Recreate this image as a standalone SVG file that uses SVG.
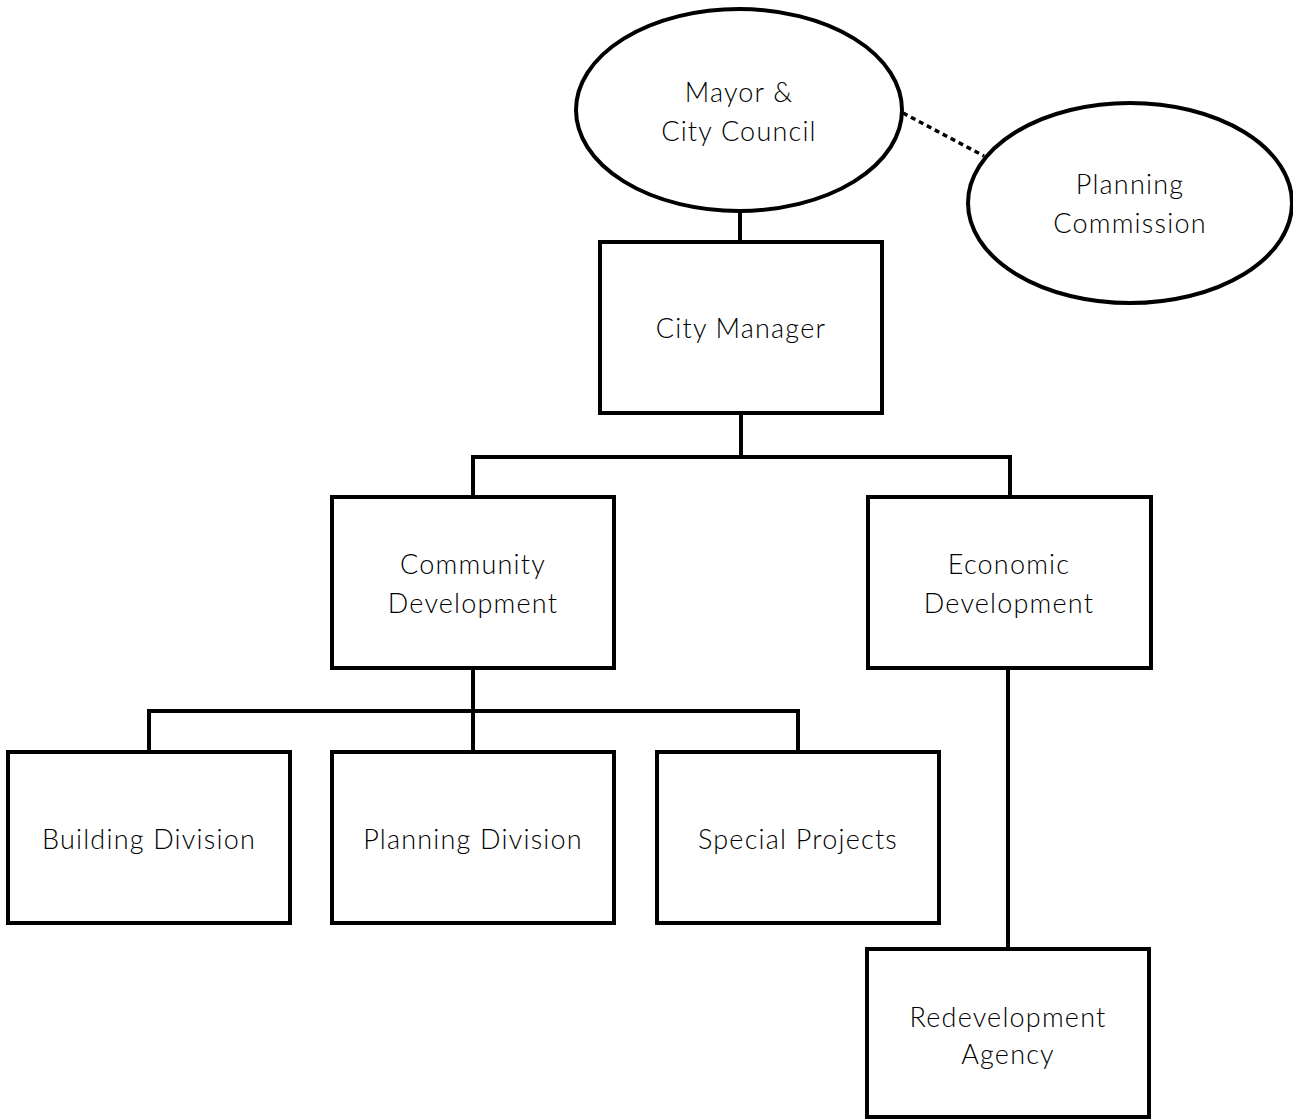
<svg xmlns="http://www.w3.org/2000/svg" width="1293" height="1119" viewBox="0 0 1293 1119">
<style>
.n{fill:#fff;stroke:#000;stroke-width:4}
.c{fill:none;stroke:#000;stroke-width:4}
.d{fill:none;stroke:#000;stroke-width:3.5;stroke-dasharray:5 4}
text{font-family:"Lato","Liberation Sans",sans-serif;font-weight:300;font-size:27px;fill:#000;text-anchor:middle;letter-spacing:1.2px}
</style>
<rect width="1293" height="1119" fill="#fff"/>
<g id="connectors">
<line class="c" x1="740" y1="211" x2="740" y2="242"/>
<line class="d" x1="903" y1="113" x2="984" y2="156"/>
<polyline class="c" points="741,413 741,457"/>
<polyline class="c" points="473,497 473,457 1010,457 1010,497"/>
<line class="c" x1="473" y1="668" x2="473" y2="752"/>
<polyline class="c" points="149,752 149,711 798,711 798,752"/>
<line class="c" x1="1008" y1="668" x2="1008" y2="949"/>
</g>
<g id="mayor"><ellipse class="n" cx="739" cy="110" rx="163" ry="101"/><text x="739" y="102">Mayor &amp;</text><text x="739" y="141">City Council</text></g>
<g id="planning-commission"><ellipse class="n" cx="1130" cy="203" rx="162" ry="100"/><text x="1130" y="194">Planning</text><text x="1130" y="233">Commission</text></g>
<g id="city-manager"><rect class="n" x="600" y="242" width="282" height="171"/><text x="741" y="338">City Manager</text></g>
<g id="community-development"><rect class="n" x="332" y="497" width="282" height="171"/><text x="473" y="574">Community</text><text x="473" y="613">Development</text></g>
<g id="economic-development"><rect class="n" x="868" y="497" width="283" height="171"/><text x="1009" y="574">Economic</text><text x="1009" y="613">Development</text></g>
<g id="building-division"><rect class="n" x="8" y="752" width="282" height="171"/><text x="149" y="849">Building Division</text></g>
<g id="planning-division"><rect class="n" x="332" y="752" width="282" height="171"/><text x="473" y="849">Planning Division</text></g>
<g id="special-projects"><rect class="n" x="657" y="752" width="282" height="171"/><text x="798" y="849">Special Projects</text></g>
<g id="redevelopment-agency"><rect class="n" x="867" y="949" width="282" height="168"/><text x="1008" y="1027">Redevelopment</text><text x="1008" y="1064">Agency</text></g>
</svg>
